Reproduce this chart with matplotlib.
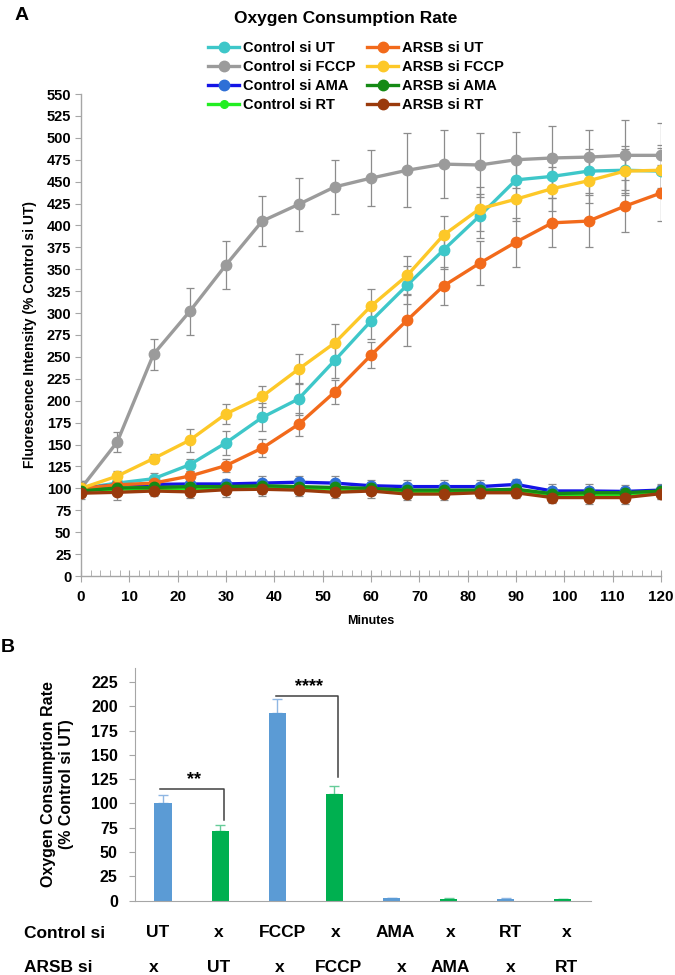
import matplotlib
matplotlib.use("Agg")
import matplotlib.pyplot as plt
import matplotlib.font_manager as fm
from matplotlib.lines import Line2D
import numpy as np

names = {f.name for f in fm.fontManager.ttflist}
NARROW = 'Liberation Sans Narrow' if 'Liberation Sans Narrow' in names else 'Liberation Sans'
plt.rcParams['font.family'] = ['Liberation Sans', 'DejaVu Sans']

# ---------------- data: panel A ----------------
minutes = [0, 7.5, 15, 22.5, 30, 37.5, 45, 52.5, 60, 67.5, 75, 82.5, 90, 97.5, 105, 112.5, 120]

ctrl_ut = [100, 106, 111, 127, 152, 181, 202, 246, 291, 332, 372, 411, 452, 456, 462, 463, 462]
ctrl_ut_err = [8, 6, 6, 7, 14, 16, 18, 20, 20, 22, 22, 25, 25, 25, 25, 28, 30]
ctrl_fccp = [100, 153, 253, 302, 355, 405, 424, 444, 454, 463, 470, 469, 475, 477, 478, 480, 480]
ctrl_fccp_err = [8, 11, 18, 27, 27, 29, 30, 31, 32, 42, 39, 36, 32, 36, 31, 40, 37]
ctrl_ama = [100, 104, 104.5, 105, 105, 106, 107, 106, 103, 102, 102, 102, 104.5, 97, 97, 96.5, 98]
ctrl_ama_err = [8, 6, 6, 6, 6, 8, 7, 8, 7, 8, 8, 8, 6, 8, 8, 7, 7]
ctrl_rt = [98, 99, 99.5, 100, 100, 101, 100, 99, 99, 96, 96, 96, 97, 92, 93, 93, 95]
ctrl_rt_err = [7, 6, 6, 6, 6, 7, 7, 7, 7, 7, 7, 7, 6, 7, 7, 7, 7]

arsb_ut = [100, 104, 106, 114, 126, 146, 173, 210, 252, 292, 331, 357, 381, 403, 405, 422, 437]
arsb_ut_err = [5, 5, 5, 6, 7, 10, 13, 14, 15, 30, 22, 25, 28, 28, 30, 30, 32]
arsb_fccp = [100, 114, 134, 155, 185, 205, 236, 266, 308, 343, 389, 419, 430, 442, 451, 462, 463]
arsb_fccp_err = [5, 6, 5, 13, 11, 12, 17, 22, 20, 22, 22, 25, 25, 25, 25, 25, 25]
arsb_ama = [97, 100.5, 101, 102, 102, 103, 102, 101, 100, 98, 98, 98, 99, 94, 95, 95, 97]
arsb_ama_err = [7, 6, 6, 6, 6, 7, 7, 7, 7, 7, 7, 7, 6, 7, 7, 7, 7]
arsb_rt = [94.5, 95.5, 97, 96, 98.5, 99, 98, 95.5, 97, 93.5, 93.5, 95, 95, 89.5, 89.5, 89.5, 94]
arsb_rt_err = [7, 9, 6, 7, 8, 8, 7, 7, 8, 7, 7, 6, 6, 6, 7, 7, 6]

series_labels = ['Control si UT', 'Control si FCCP', 'Control si AMA', 'Control si RT',
                 'ARSB si UT', 'ARSB si FCCP', 'ARSB si AMA', 'ARSB si RT']
series_values = [ctrl_ut, ctrl_fccp, ctrl_ama, ctrl_rt, arsb_ut, arsb_fccp, arsb_ama, arsb_rt]
series_errors = [ctrl_ut_err, ctrl_fccp_err, ctrl_ama_err, ctrl_rt_err,
                 arsb_ut_err, arsb_fccp_err, arsb_ama_err, arsb_rt_err]
line_colors = ['#3EC7C9', '#9B9B9B', '#1414E6', '#22EE22', '#F26A1B', '#FDC828', '#158A15', '#9A3A0C']
marker_faces = ['#3EC7C9', '#9B9B9B', '#2E6FD6', '#22EE22', '#F26A1B', '#FDC828', '#158A15', '#9A3A0C']
marker_sizes = [7.5, 7.5, 7.5, 5.5, 7.5, 7.5, 7.5, 7.5]

# ---------------- data: panel B ----------------
bar_values = [100, 72, 193, 110, 2.5, 1.5, 1.5, 1.5]
bar_errors = [8.5, 6, 14, 8, 0.5, 1, 1, 0.5]
bar_colors = ['#5B9BD5', '#00B050'] * 4
err_colors = ['#8FB7E3', '#66CC99'] * 4
control_row = ['UT', 'x', 'FCCP', 'x', 'AMA', 'x', 'RT', 'x']
arsb_row = ['x', 'UT', 'x', 'FCCP', 'x', 'AMA', 'x', 'RT']
control_row_shift = [-0.1, -0.03, 0.09, 0.02, 0.07, 0.03, 0.09, 0.07]
arsb_row_shift = [-0.17, -0.02, 0.04, 0.07, 0.18, 0.03, 0.09, 0.07]

W, H = 675, 975
fig = plt.figure(figsize=(W / 100, H / 100), dpi=100)

def fx(px):
    return px / W

def fy(py):
    return 1 - py / H

axis_gray = '#A6A6A6'

# ---------------- panel A ----------------
axA = fig.add_axes([fx(81), fy(576), fx(661) - fx(81), fy(94) - fy(576)])
for vals, errs in zip(series_values, series_errors):
    axA.errorbar(minutes, vals, yerr=errs, fmt='none', ecolor='#8C8C8C', elinewidth=0.9,
                 capsize=3.2, capthick=0.9, zorder=2)
for vals, col, mfc, ms, lab in zip(series_values, line_colors, marker_faces, marker_sizes, series_labels):
    axA.plot(minutes, vals, color=col, lw=2.4, marker='o', ms=ms, mfc=mfc, mec=mfc,
             label=lab, zorder=3)

axA.set_xlim(0, 120)
axA.set_ylim(0, 550)
axA.set_yticks(np.arange(0, 551, 25))
axA.set_xticks(np.arange(0, 121, 10))
axA.set_xticks(np.arange(0, 121, 2), minor=True)
for s in ['top', 'right']:
    axA.spines[s].set_visible(False)
for s in ['left', 'bottom']:
    axA.spines[s].set_color(axis_gray)
    axA.spines[s].set_linewidth(1.0)
axA.tick_params(axis='y', which='major', direction='out', length=4, color=axis_gray, pad=3)
axA.tick_params(axis='x', which='major', direction='inout', length=8, color=axis_gray, pad=6)
axA.tick_params(axis='x', which='minor', direction='in', length=4, color=axis_gray)
for t in axA.get_yticklabels():
    t.set_fontfamily(NARROW); t.set_fontweight('bold'); t.set_fontsize(10.5)
for t in axA.get_xticklabels():
    t.set_fontfamily(NARROW); t.set_fontweight('bold'); t.set_fontsize(11)
axA.set_xlabel('Minutes', fontsize=9, fontweight='bold', labelpad=8)
axA.set_ylabel('Fluorescence Intensity (% Control si UT)', fontsize=10, fontweight='bold', labelpad=7)

handles = [Line2D([0], [0], color=c, lw=2.4, marker='o', ms=ms, mfc=m, mec=m)
           for c, m, ms in zip(line_colors, marker_faces, marker_sizes)]
fig.legend(handles, series_labels, ncol=2, loc='upper left', bbox_to_anchor=(fx(201), fy(34)),
           frameon=False, borderpad=0, handlelength=2.1, handletextpad=0.25, columnspacing=0.85,
           labelspacing=0.33, prop={'family': NARROW, 'weight': 'bold', 'size': 10.5})

fig.text(fx(346), fy(18), 'Oxygen Consumption Rate', ha='center', va='center',
         fontsize=12.5, fontweight='bold', fontfamily=NARROW)
fig.text(fx(22), fy(15), 'A', ha='center', va='center', fontsize=14, fontweight='bold')

# ---------------- panel B ----------------
axB = fig.add_axes([fx(134.5), fy(900.7), fx(591.4) - fx(134.5), fy(668.3) - fy(900.7)])
pos = np.arange(len(bar_values))
axB.bar(pos, bar_values, width=0.3, color=bar_colors, zorder=2)
for p, v, e, c in zip(pos, bar_values, bar_errors, err_colors):
    axB.errorbar([p], [v], yerr=[[0], [e]], fmt='none', ecolor=c, elinewidth=1.0,
                 capsize=3.5, capthick=1.0, zorder=1)
axB.set_xlim(-0.5, 7.5)
axB.set_ylim(0, 239)
axB.set_yticks(np.arange(0, 226, 25))
axB.set_xticks([])
for s in ['top', 'right']:
    axB.spines[s].set_visible(False)
for s in ['left', 'bottom']:
    axB.spines[s].set_color(axis_gray)
axB.tick_params(axis='y', direction='out', length=4, color=axis_gray, pad=8)
for t in axB.get_yticklabels():
    t.set_fontfamily(NARROW); t.set_fontweight('bold'); t.set_fontsize(11.5)
axB.set_ylabel('Oxygen Consumption Rate\n(% Control si UT)', fontsize=11.5, fontweight='bold',
               labelpad=12, linespacing=1.25)

# significance brackets
axB.plot([-0.05, 1.06, 1.06], [114.6, 114.6, 83], color='#404040', lw=1.1)
axB.text(0.55, 115.5, '**', ha='center', va='bottom', fontsize=13, fontweight='bold')
axB.plot([1.97, 3.06, 3.06], [210.3, 210.3, 127], color='#404040', lw=1.1)
axB.text(2.55, 211, '****', ha='center', va='bottom', fontsize=13, fontweight='bold')

for p, a, b, da, db in zip(pos, control_row, arsb_row, control_row_shift, arsb_row_shift):
    axB.text(p + da, -33, a, ha='center', va='center', clip_on=False,
             fontsize=12.5, fontweight='bold', fontfamily=NARROW)
    axB.text(p + db, -69, b, ha='center', va='center', clip_on=False,
             fontsize=12.5, fontweight='bold', fontfamily=NARROW)
fig.text(fx(24), fy(933), 'Control si', ha='left', va='center', fontsize=12.5,
         fontweight='bold', fontfamily=NARROW)
fig.text(fx(24), fy(968), 'ARSB si', ha='left', va='center', fontsize=12.5,
         fontweight='bold', fontfamily=NARROW)
fig.text(fx(8), fy(648), 'B', ha='center', va='center', fontsize=14, fontweight='bold')

fig.savefig('out.png', dpi=100)
